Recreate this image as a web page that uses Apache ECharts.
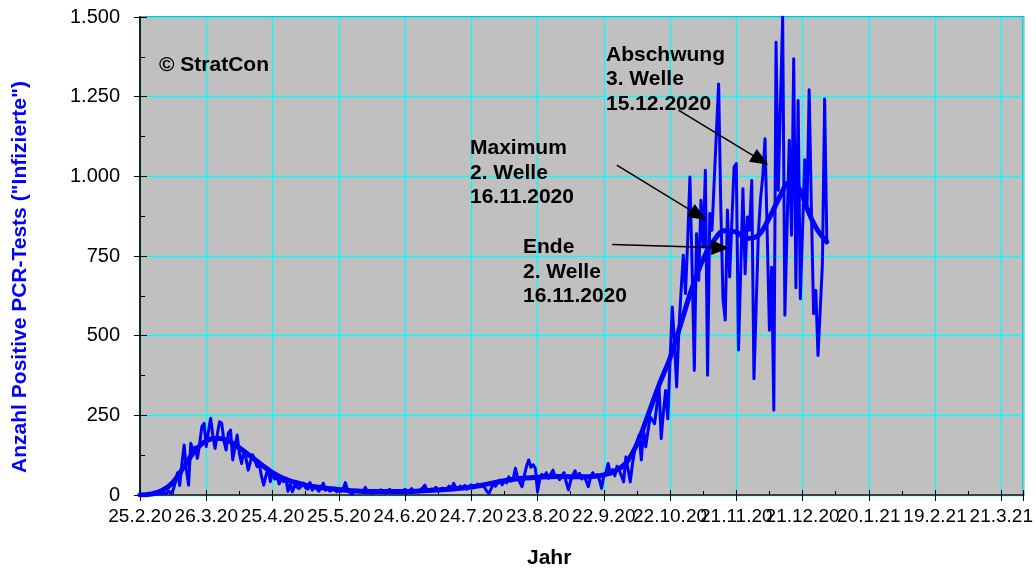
<!DOCTYPE html>
<html><head><meta charset="utf-8">
<script src="https://cdn.jsdelivr.net/npm/echarts@6/dist/echarts.min.js"></script>
<style>html,body{margin:0;padding:0;background:#fff}#c{width:1036px;height:572px}</style>
</head><body><div id="c"></div>
<script>
// Day 0 = 25.2.2020, one value per day
const startDate = '25.2.2020';
const tickLabels = ['25.2.20','26.3.20','25.4.20','25.5.20','24.6.20','24.7.20','23.8.20','22.9.20','22.10.20','21.11.20','21.12.20','20.1.21','19.2.21','21.3.21'];
const tickStepDays = 30;
const yTickLabels = ['0','250','500','750','1.000','1.250','1.500'];

const dailyValues = [
  0,1,0,2,1,3,2,4,3,5,4,6,5,12,5,15,40,70,30,100,
  157,80,31,162,141,150,115,160,214,225,152,200,241,185,146,190,230,225,170,141,
  194,204,110,150,188,130,99,140,115,78,105,126,110,89,95,60,31,60,84,42,
  72,50,58,35,50,42,53,12,35,10,30,25,20,28,37,22,18,39,15,25,
  20,12,25,37,15,20,12,18,22,10,15,12,20,39,15,8,2,12,15,10,
  14,8,24,12,6,10,14,8,12,16,9,6,12,18,10,7,14,10,8,12,
  18,9,13,20,11,15,10,17,22,31,14,12,19,16,24,13,18,22,15,20,
  28,18,37,24,20,28,22,30,18,26,32,22,28,34,26,30,24,12,5,20,
  35,28,40,47,32,45,38,57,44,50,84,55,40,26,60,90,110,87,95,84,
  10,50,65,58,70,52,66,78,55,62,48,60,70,40,16,45,62,76,55,68,
  50,60,45,26,55,70,58,64,48,21,60,72,99,65,80,60,90,78,60,41,
  119,80,41,98,140,165,188,110,203,151,200,245,235,224,280,344,177,260,328,239,
  420,590,480,339,517,640,752,632,800,998,715,391,820,674,925,778,1019,376,883,831,
  984,1137,1290,900,612,549,894,684,860,1029,1040,455,700,961,694,872,831,987,365,590,
  820,930,1000,1118,820,517,715,266,1421,956,1230,1500,564,840,1113,815,1369,650,1238,616,
  830,1052,893,1272,900,569,642,438,580,726,1243,794
];

const trendDays   = [0,5,10,15,20,25,30,35,40,45,50,55,60,65,70,75,80,90,100,110,120,130,140,150,160,170,180,190,200,205,210,215,220,225,230,235,240,245,250,255,260,265,270,275,280,285,290,294,298,302,306,311];
const trendValues = [0,3,14,40,90,140,170,178,170,148,122,95,70,52,40,31,25,17,12,11,11,14,18,25,38,50,56,58,57,58,63,75,100,160,250,345,430,540,650,740,800,830,825,805,815,870,940,980,966,900,840,794];

// annotation arrows in data space: [startDay, startValue, endDay, endValue]
const arrows = [
  [243.8, 1208, 281.0, 1051],
  [215.9, 1035, 252.9, 878],
  [213.8, 786, 262.8, 776]
];

const FONT = '"Liberation Sans", Arial, sans-serif';
const chart = echarts.init(document.getElementById('c'), null, {renderer: 'canvas'});

function xLabel(v) {
  const k = v / tickStepDays;
  return (Number.isInteger(k) && k < tickLabels.length) ? tickLabels[k] : '';
}
function yLabel(v) {
  const k = v / 250;
  return (Number.isInteger(k) && k < yTickLabels.length) ? yTickLabels[k] : '';
}

const option = {
  animation: false,
  grid: {left: 140, top: 17, right: 12, bottom: 77, show: true, backgroundColor: '#C0C0C0', borderColor: '#808080', borderWidth: 2},
  xAxis: [
    {type: 'value', min: 0, max: 400, interval: 30, position: 'bottom',
     axisLine: {show: true, onZero: false, lineStyle: {color: '#404040', width: 2}},
     axisTick: {show: true, inside: false, length: 6, lineStyle: {color: '#000', width: 1}},
     minorTick: {show: false},
     axisLabel: {fontFamily: FONT, fontSize: 19, color: '#000', margin: 12, formatter: xLabel},
     splitLine: {show: true, lineStyle: {color: '#00FFFF', width: 1.3}}},
    {type: 'value', min: 0, max: 400, interval: 30, position: 'bottom',
     axisLine: {show: false, onZero: false},
     axisTick: {show: true, inside: true, length: 5, lineStyle: {color: '#000', width: 1}},
     minorTick: {show: true, splitNumber: 2, length: 4, lineStyle: {color: '#000', width: 1}},
     axisLabel: {show: false}, splitLine: {show: false}}
  ],
  yAxis: [
    {type: 'value', min: 0, max: 1500, interval: 250, position: 'left',
     axisLine: {show: true, onZero: false, lineStyle: {color: '#202020', width: 2}},
     axisTick: {show: true, inside: false, length: 6, lineStyle: {color: '#000', width: 1}},
     minorTick: {show: false},
     axisLabel: {fontFamily: FONT, fontSize: 20, color: '#000', margin: 20, formatter: yLabel},
     splitLine: {show: true, lineStyle: {color: '#00FFFF', width: 1.3}}},
    {type: 'value', min: 0, max: 1500, interval: 250, position: 'left',
     axisLine: {show: false, onZero: false},
     axisTick: {show: true, inside: true, length: 7, lineStyle: {color: '#000', width: 1}},
     minorTick: {show: true, splitNumber: 2, length: 5, lineStyle: {color: '#000', width: 1}},
     axisLabel: {show: false}, splitLine: {show: false}}
  ],
  series: [
    {type: 'line', name: 'daily', xAxisIndex: 0, yAxisIndex: 0,
     data: dailyValues.map((v, i) => [i, v]),
     showSymbol: false, symbol: 'none',
     lineStyle: {color: '#0000FF', width: 3, join: 'round', cap: 'round'}, z: 3},
    {type: 'line', name: 'trend', xAxisIndex: 0, yAxisIndex: 0,
     data: trendDays.map((d, i) => [d, trendValues[i]]),
     smooth: 0.4, showSymbol: false, symbol: 'none',
     lineStyle: {color: '#0000FF', width: 5, join: 'round', cap: 'round'}, z: 4,
     markLine: {
       silent: true, animation: false,
       symbol: ['none', 'triangle'], symbolSize: [15, 18],
       label: {show: false},
       lineStyle: {color: '#000', width: 1.5, type: 'solid'},
       itemStyle: {color: '#000'},
       data: arrows.map(a => [{coord: [a[0], a[1]]}, {coord: [a[2], a[3]]}])
     }}
  ],
  graphic: [
    {type: 'text', left: 159, top: 55, z: 10, style: {text: '© StratCon', font: 'bold 21px ' + FONT, fill: '#000'}},
    {type: 'text', left: 606, top: 42.5, z: 10, style: {text: 'Abschwung\n3. Welle\n15.12.2020', font: 'bold 21px ' + FONT, lineHeight: 24.5, fill: '#000'}},
    {type: 'text', left: 470, top: 136, z: 10, style: {text: 'Maximum\n2. Welle\n16.11.2020', font: 'bold 21px ' + FONT, lineHeight: 24.5, fill: '#000'}},
    {type: 'text', left: 523, top: 235, z: 10, style: {text: 'Ende\n2. Welle\n16.11.2020', font: 'bold 21px ' + FONT, lineHeight: 24.5, fill: '#000'}},
    {type: 'text', left: 527, top: 548, z: 10, style: {text: 'Jahr', font: 'bold 21px ' + FONT, fill: '#000'}},
    {type: 'text', x: 20, y: 277, rotation: Math.PI / 2, z: 10,
     style: {text: 'Anzahl Positive PCR-Tests ("Infizierte")', font: 'bold 21px ' + FONT, fill: '#0000FF', align: 'center', verticalAlign: 'middle'}}
  ]
};
chart.setOption(option);
</script>
</body></html>
